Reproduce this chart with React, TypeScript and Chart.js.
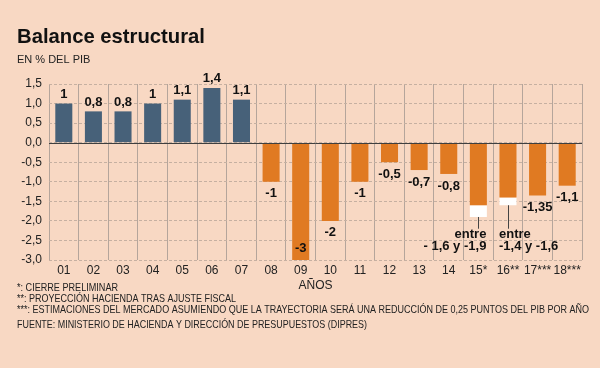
import React, { useEffect, useRef } from 'react';
import { Chart, registerables } from 'chart.js';

Chart.register(...registerables);

const categories = ['01', '02', '03', '04', '05', '06', '07', '08', '09', '10', '11', '12', '13', '14', '15*', '16**', '17***', '18***'];
const balance = [1, 0.8, 0.8, 1, 1.1, 1.4, 1.1, -1, -3, -2, -1, -0.5, -0.7, -0.8, -1.6, -1.4, -1.35, -1.1];
const rangeExtra = [null, null, null, null, null, null, null, null, null, null, null, null, null, null, -0.3, -0.2, null, null];
const rangeLabels: (string[] | null)[] = [null, null, null, null, null, null, null, null, null, null, null, null, null, null, ['entre', '- 1,6 y -1,9'], ['entre', '-1,4 y -1,6'], null, null];
const yMin = -3;
const yMax = 1.5;
const yStep = 0.5;
const title = 'Balance estructural';
const subtitle = 'EN % DEL PIB';
const xTitle = 'AÑOS';
const footnotes = [
  '*: CIERRE PRELIMINAR',
  '**: PROYECCIÓN HACIENDA TRAS AJUSTE FISCAL',
  '***: ESTIMACIONES DEL MERCADO ASUMIENDO QUE LA TRAYECTORIA SERÁ UNA REDUCCIÓN DE 0,25 PUNTOS DEL PIB POR AÑO',
  'FUENTE: MINISTERIO DE HACIENDA Y DIRECCIÓN DE PRESUPUESTOS (DIPRES)',
];

const BG = '#f8d8c3';
const BLUE = '#476179';
const ORANGE = '#e07a22';
const FONT = "'Liberation Sans', Arial, sans-serif";

const fmt = (v: number) => String(v).replace('.', ',');

const annotPlugin = {
  id: 'annot',
  beforeDraw(chart: any) {
    const { ctx, width, height } = chart;
    ctx.save();
    ctx.fillStyle = BG;
    ctx.fillRect(0, 0, width, height);
    ctx.restore();
  },
  afterDatasetsDraw(chart: any) {
    const { ctx, chartArea, scales } = chart;
    const y = scales.y;
    const meta0 = chart.getDatasetMeta(0);
    const meta1 = chart.getDatasetMeta(1);
    ctx.save();
    const y0 = Math.round(y.getPixelForValue(0)) + 0.5;
    ctx.strokeStyle = '#3f3f3f';
    ctx.lineWidth = 1;
    ctx.beginPath();
    ctx.moveTo(chartArea.left, y0);
    ctx.lineTo(chartArea.right, y0);
    ctx.stroke();

    ctx.fillStyle = '#111';
    ctx.font = `bold 13px ${FONT}`;
    ctx.textBaseline = 'middle';
    balance.forEach((v, i) => {
      const bar = meta0.data[i];
      const rl = rangeLabels[i];
      if (rl) {
        const endEl = meta1.data[i];
        const bottom = endEl ? endEl.y : bar.y;
        const leaderEnd = y.getPixelForValue(-2.2);
        const lx = Math.round(bar.x) + 0.5;
        ctx.strokeStyle = '#444';
        ctx.beginPath();
        ctx.moveTo(lx, bottom);
        ctx.lineTo(lx, leaderEnd);
        ctx.stroke();
        if (i === 14) {
          ctx.textAlign = 'right';
          ctx.fillText(rl[0], bar.x + 8, leaderEnd + 6);
          ctx.fillText(rl[1], bar.x + 8, leaderEnd + 18);
        } else {
          ctx.textAlign = 'left';
          ctx.fillText(rl[0], bar.x - 9, leaderEnd + 6);
          ctx.fillText(rl[1], bar.x - 9, leaderEnd + 18);
        }
        return;
      }
      ctx.textAlign = 'center';
      let ty = v >= 0 ? bar.y - 9 : bar.y + 12;
      if (v < 0 && ty > chartArea.bottom - 6) ty = bar.y - 12;
      ctx.fillText(fmt(v), bar.x, ty);
    });
    ctx.restore();
  },
  afterDraw(chart: any) {
    const { ctx, chartArea } = chart;
    ctx.save();
    ctx.fillStyle = '#111';
    ctx.textAlign = 'left';
    ctx.textBaseline = 'alphabetic';
    ctx.font = `bold 21px ${FONT}`;
    ctx.fillText(title, 17, 43, 188);
    ctx.font = `11px ${FONT}`;
    ctx.fillStyle = '#222';
    ctx.fillText(subtitle, 17, 63, 74);

    ctx.textAlign = 'center';
    ctx.textBaseline = 'middle';
    ctx.font = `12px ${FONT}`;
    ctx.fillText(xTitle, (chartArea.left + chartArea.right) / 2, 286);

    ctx.textAlign = 'left';
    ctx.font = `10.5px ${FONT}`;
    const ys = [288, 299, 310, 325];
    const ws = [101, 219, 572, 350];
    footnotes.forEach((t, i) => ctx.fillText(t, 17, ys[i], ws[i]));
    ctx.restore();
  },
};

export default function App() {
  const ref = useRef<HTMLCanvasElement | null>(null);
  useEffect(() => {
    if (!ref.current) return;
    const chart = new Chart(ref.current, {
      type: 'bar',
      data: {
        labels: categories,
        datasets: [
          {
            data: balance,
            backgroundColor: balance.map((_, i) => (i < 7 ? BLUE : ORANGE)),
            barPercentage: 0.575,
            categoryPercentage: 1,
          },
          {
            data: rangeExtra,
            backgroundColor: '#ffffff',
            barPercentage: 0.575,
            categoryPercentage: 1,
          },
        ],
      },
      options: {
        responsive: false,
        animation: false,
        layout: { padding: { top: 84, right: 18, left: 0, bottom: 0 } },
        plugins: { legend: { display: false }, tooltip: { enabled: false }, title: { display: false } },
        scales: {
          x: {
            stacked: true,
            afterFit: (s: any) => { s.height = 108; },
            grid: { color: '#b5a59b', offset: true, drawTicks: false, lineWidth: 1 },
            border: { display: false },
            ticks: { color: '#222', font: { family: FONT, size: 12 }, padding: 3, maxRotation: 0, autoSkip: false },
          },
          y: {
            stacked: true,
            min: yMin,
            max: yMax,
            afterFit: (s: any) => { s.width = 49; },
            grid: { color: '#c6b0a1', drawTicks: false, lineWidth: 1 },
            border: { display: false, dash: [3, 2] },
            ticks: {
              stepSize: yStep,
              color: '#222',
              font: { family: FONT, size: 12 },
              padding: 7,
              callback: (v: any) => Number(v).toFixed(1).replace('.', ','),
            },
          },
        },
      },
      plugins: [annotPlugin],
    });
    return () => chart.destroy();
  }, []);
  return (
    <div style={{ position: 'fixed', left: 0, top: 0, width: 600, height: 368, background: BG }}>
      <canvas ref={ref} width={600} height={368} style={{ display: 'block' }} />
    </div>
  );
}
